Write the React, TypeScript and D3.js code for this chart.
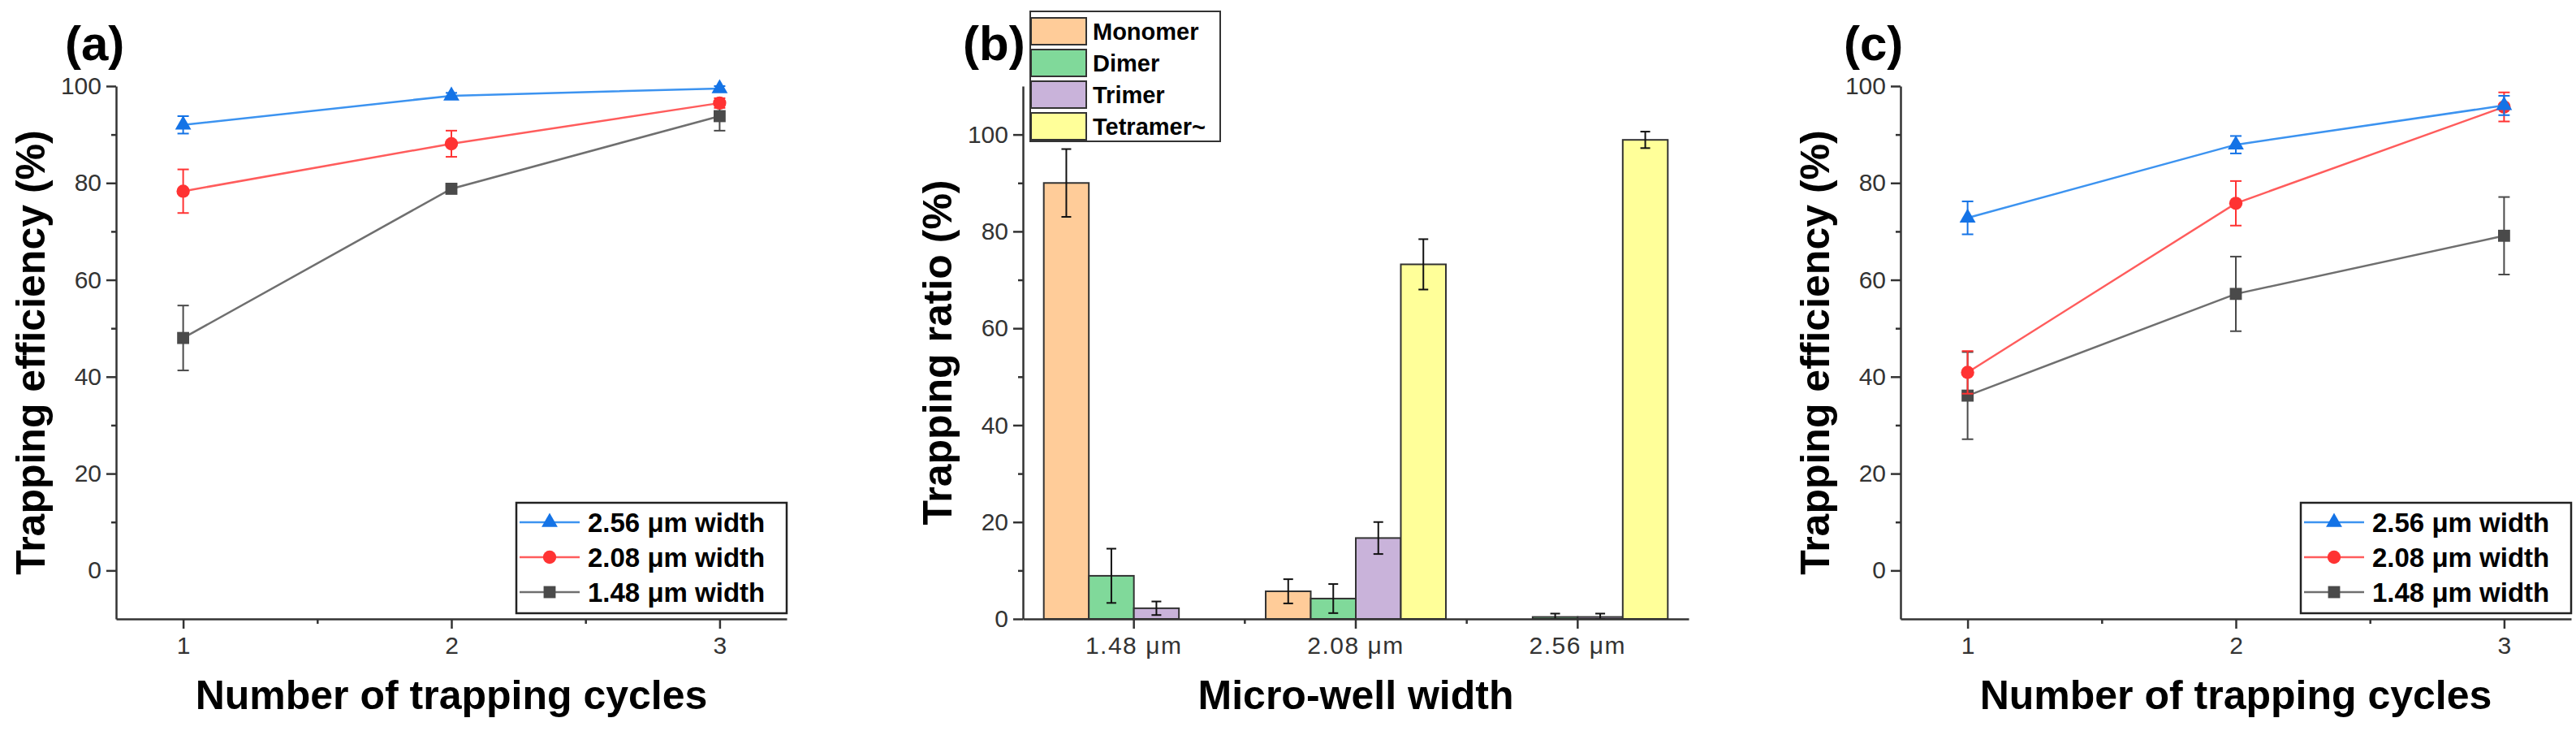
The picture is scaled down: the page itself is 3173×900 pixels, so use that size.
import { useEffect, useRef } from "react"
import * as d3 from "d3"

// Panels (a) and (c): trapping efficiency vs number of cycles
const cycles = [1, 2, 3]
const seriesNames = ["2.56 μm width", "2.08 μm width", "1.48 μm width"]
const markerColors = ["#1473e6", "#ff3333", "#4a4a4a"]
const lineColors = ["#3c93f0", "#ff5c5c", "#6f6f6f"]
const markerShapes = [d3.symbolTriangle, d3.symbolCircle, d3.symbolSquare]

// (a)
const effA256 = [92, 98, 99.5]
const errA256 = [1.8, 0.6, 0.5]
const effA208 = [78.3, 88.1, 96.5]
const errA208 = [4.5, 2.7, 1.0]
const effA148 = [48, 78.8, 93.8]
const errA148 = [6.7, 0.8, 3.0]

// (c)
const effC256 = [72.8, 87.9, 96]
const errC256 = [3.4, 1.8, 2.0]
const effC208 = [40.9, 75.8, 95.7]
const errC208 = [4.4, 4.6, 3.0]
const effC148 = [36.1, 57.1, 69.1]
const errC148 = [9.0, 7.7, 8.0]

// (b): trapping ratio per micro-well width
const wellWidths = ["1.48 μm", "2.08 μm", "2.56 μm"]
const species = ["Monomer", "Dimer", "Trimer", "Tetramer~"]
const speciesColors = ["#ffcc99", "#80d99a", "#c9b3da", "#ffff99"]
const monomer = [90, 5.7, 0]
const monomerErr = [7, 2.5, 0]
const dimer = [8.9, 4.2, 0.4]
const dimerErr = [5.6, 3, 0.7]
const trimer = [2.2, 16.7, 0.4]
const trimerErr = [1.4, 3.3, 0.7]
const tetramer = [0, 73.2, 98.9]
const tetramerErr = [0, 5.2, 1.7]

const yTicksMajor = [0, 20, 40, 60, 80, 100]
const yTicksMinor = [10, 30, 50, 70, 90]

const FONT = "'Liberation Sans', Arial, sans-serif"
const AXIS = "#333"

type G = d3.Selection<SVGGElement, unknown, null, undefined>

function styleAxis(g: G) {
  g.attr("font-family", FONT).attr("font-size", 30)
  g.select(".domain").attr("stroke", AXIS).attr("stroke-width", 2.5)
  g.selectAll(".tick line").attr("stroke", AXIS).attr("stroke-width", 2.5)
  g.selectAll(".tick text").attr("fill", "#333")
}

function panelTitles(root: G, left: number, right: number, tag: string, yTitle: string, xTitle: string, tagX: number) {
  root
    .append("text")
    .attr("x", tagX)
    .attr("y", 74)
    .attr("font-family", FONT)
    .attr("font-size", 60)
    .attr("font-weight", "bold")
    .text(tag)

  root
    .append("text")
    .attr("transform", `translate(${left - 88},434) rotate(-90)`)
    .attr("text-anchor", "middle")
    .attr("font-family", FONT)
    .attr("font-size", 50)
    .attr("font-weight", "bold")
    .text(yTitle)

  root
    .append("text")
    .attr("x", (left + right) / 2)
    .attr("y", 873)
    .attr("text-anchor", "middle")
    .attr("font-family", FONT)
    .attr("font-size", 50)
    .attr("font-weight", "bold")
    .text(xTitle)
}

function drawLinePanel(root: G, left: number, tag: string, tagX: number, values: number[][], errors: number[][]) {
  const right = left + 826
  const x = d3.scaleLinear().domain([0.75, 3.25]).range([left, right])
  const y = d3.scaleLinear().domain([-10, 100]).range([762, 106])

  // оси
  root
    .append("g")
    .attr("transform", `translate(${left},0)`)
    .call(d3.axisLeft(y).tickValues(yTicksMajor).tickSize(12).tickSizeOuter(0).tickPadding(6))
    .call(styleAxis)
  root
    .append("g")
    .attr("transform", `translate(${left},0)`)
    .call(d3.axisLeft(y).tickValues(yTicksMinor).tickSize(6).tickFormat(() => ""))
    .call(styleAxis)
    .call((g) => g.select(".domain").remove())

  root
    .append("g")
    .attr("transform", `translate(0,762)`)
    .call(d3.axisBottom(x).tickValues(cycles).tickSize(12).tickSizeOuter(0).tickPadding(10).tickFormat(d3.format("d")))
    .call(styleAxis)
  root
    .append("g")
    .attr("transform", `translate(0,762)`)
    .call(d3.axisBottom(x).tickValues([1.5, 2.5]).tickSize(6).tickFormat(() => ""))
    .call(styleAxis)
    .call((g) => g.select(".domain").remove())

  const line = d3
    .line<number>()
    .x((_, i) => x(cycles[i]))
    .y((d) => y(d))

  // серии: серая снизу, синяя сверху
  for (let s = values.length - 1; s >= 0; s--) {
    const g = root.append("g")
    g.append("path")
      .datum(values[s])
      .attr("fill", "none")
      .attr("stroke", lineColors[s])
      .attr("stroke-width", 2.5)
      .attr("d", line)

    values[s].forEach((v, i) => {
      const cx = x(cycles[i])
      const e = errors[s][i]
      const eg = g.append("g").attr("stroke", markerColors[s]).attr("stroke-width", 2)
      eg.append("line").attr("x1", cx).attr("x2", cx).attr("y1", y(v - e)).attr("y2", y(v + e))
      eg.append("line").attr("x1", cx - 7).attr("x2", cx + 7).attr("y1", y(v - e)).attr("y2", y(v - e))
      eg.append("line").attr("x1", cx - 7).attr("x2", cx + 7).attr("y1", y(v + e)).attr("y2", y(v + e))
    })

    g.selectAll("path.mk")
      .data(values[s])
      .enter()
      .append("path")
      .attr("class", "mk")
      .attr("transform", (d, i) => `translate(${x(cycles[i])},${y(d)})`)
      .attr("d", d3.symbol(markerShapes[s], s === 0 ? 170 : s === 1 ? 210 : 220)())
      .attr("fill", markerColors[s])
  }

  // легенда
  const lx = right - 333
  const ly = 619
  const legend = root.append("g")
  legend
    .append("rect")
    .attr("x", lx)
    .attr("y", ly)
    .attr("width", 333)
    .attr("height", 136)
    .attr("fill", "white")
    .attr("stroke", "#222")
    .attr("stroke-width", 2.5)
  seriesNames.forEach((name, s) => {
    const cy = ly + 24 + s * 43
    legend
      .append("line")
      .attr("x1", lx + 4)
      .attr("x2", lx + 78)
      .attr("y1", cy)
      .attr("y2", cy)
      .attr("stroke", lineColors[s])
      .attr("stroke-width", 2.5)
    legend
      .append("path")
      .attr("transform", `translate(${lx + 41},${cy})`)
      .attr("d", d3.symbol(markerShapes[s], s === 0 ? 170 : s === 1 ? 210 : 220)())
      .attr("fill", markerColors[s])
    legend
      .append("text")
      .attr("x", lx + 88)
      .attr("y", cy + 12)
      .attr("font-family", FONT)
      .attr("font-size", 33)
      .attr("font-weight", "bold")
      .text(name)
  })

  panelTitles(root, left, right, tag, "Trapping efficiency (%)", "Number of trapping cycles", tagX)
}

function drawBarPanel(root: G) {
  const left = 1260
  const right = 2080
  const x = d3.scaleBand().domain(wellWidths).range([left, right]).paddingInner(0.188).paddingOuter(0.094)
  const xs = d3.scaleBand().domain(species).range([0, x.bandwidth()])
  const y = d3.scaleLinear().domain([0, 110]).range([762, 106])

  const series = [monomer, dimer, trimer, tetramer]
  const seriesErr = [monomerErr, dimerErr, trimerErr, tetramerErr]

  series.forEach((vals, s) => {
    vals.forEach((v, i) => {
      if (v <= 0) return
      const bx = (x(wellWidths[i]) || 0) + (xs(species[s]) || 0)
      root
        .append("rect")
        .attr("x", bx)
        .attr("y", y(v))
        .attr("width", xs.bandwidth())
        .attr("height", y(0) - y(v))
        .attr("fill", speciesColors[s])
        .attr("stroke", "#333")
        .attr("stroke-width", 2)
    })
  })

  series.forEach((vals, s) => {
    vals.forEach((v, i) => {
      const e = seriesErr[s][i]
      if (v <= 0 || e <= 0) return
      const cx = (x(wellWidths[i]) || 0) + (xs(species[s]) || 0) + xs.bandwidth() / 2
      const eg = root.append("g").attr("stroke", "#111").attr("stroke-width", 2)
      eg.append("line").attr("x1", cx).attr("x2", cx).attr("y1", y(Math.max(0, v - e))).attr("y2", y(v + e))
      eg.append("line").attr("x1", cx - 6).attr("x2", cx + 6).attr("y1", y(Math.max(0, v - e))).attr("y2", y(Math.max(0, v - e)))
      eg.append("line").attr("x1", cx - 6).attr("x2", cx + 6).attr("y1", y(v + e)).attr("y2", y(v + e))
    })
  })

  root
    .append("g")
    .attr("transform", `translate(${left},0)`)
    .call(d3.axisLeft(y).tickValues(yTicksMajor).tickSize(12).tickSizeOuter(0).tickPadding(6))
    .call(styleAxis)
  root
    .append("g")
    .attr("transform", `translate(${left},0)`)
    .call(d3.axisLeft(y).tickValues(yTicksMinor).tickSize(6).tickFormat(() => ""))
    .call(styleAxis)
    .call((g) => g.select(".domain").remove())

  root
    .append("g")
    .attr("transform", `translate(0,762)`)
    .call(d3.axisBottom(x).tickSize(12).tickSizeOuter(0).tickPadding(10))
    .call(styleAxis)
    .call((g) => g.selectAll(".tick text").attr("letter-spacing", 1.5))

  // малые деления между группами
  const centers = wellWidths.map((w) => (x(w) || 0) + x.bandwidth() / 2)
  centers.slice(1).forEach((c, i) => {
    const m = (c + centers[i]) / 2
    root.append("line").attr("x1", m).attr("x2", m).attr("y1", 762).attr("y2", 768).attr("stroke", AXIS).attr("stroke-width", 2.5)
  })

  // легенда
  const lx = 1269
  const ly = 14
  const legend = root.append("g")
  legend
    .append("rect")
    .attr("x", lx)
    .attr("y", ly)
    .attr("width", 234)
    .attr("height", 160)
    .attr("fill", "white")
    .attr("stroke", "#333")
    .attr("stroke-width", 2)
  species.forEach((name, s) => {
    const top = ly + 8 + s * 39
    legend
      .append("rect")
      .attr("x", lx + 1)
      .attr("y", top)
      .attr("width", 68)
      .attr("height", 33)
      .attr("fill", speciesColors[s])
      .attr("stroke", "#333")
      .attr("stroke-width", 2)
    legend
      .append("text")
      .attr("x", lx + 77)
      .attr("y", top + 27)
      .attr("font-family", FONT)
      .attr("font-size", 29)
      .attr("font-weight", "bold")
      .text(name)
  })

  panelTitles(root, left, right, "(b)", "Trapping ratio (%)", "Micro-well width", 1186)
}

export default function App() {
  const svgRef = useRef<SVGSVGElement>(null)

  useEffect(() => {
    if (!svgRef.current) return
    const svg = d3.select(svgRef.current)
    svg.selectAll("*").remove()
    const root = svg.append("g") as unknown as G

    drawLinePanel(root, 143, "(a)", 80, [effA256, effA208, effA148], [errA256, errA208, errA148])
    drawBarPanel(root)
    drawLinePanel(root, 2341, "(c)", 2271, [effC256, effC208, effC148], [errC256, errC208, errC148])
  }, [])

  return (
    <svg
      ref={svgRef}
      width={3173}
      height={900}
      style={{ position: "absolute", left: 0, top: 0, background: "white" }}
    />
  )
}
